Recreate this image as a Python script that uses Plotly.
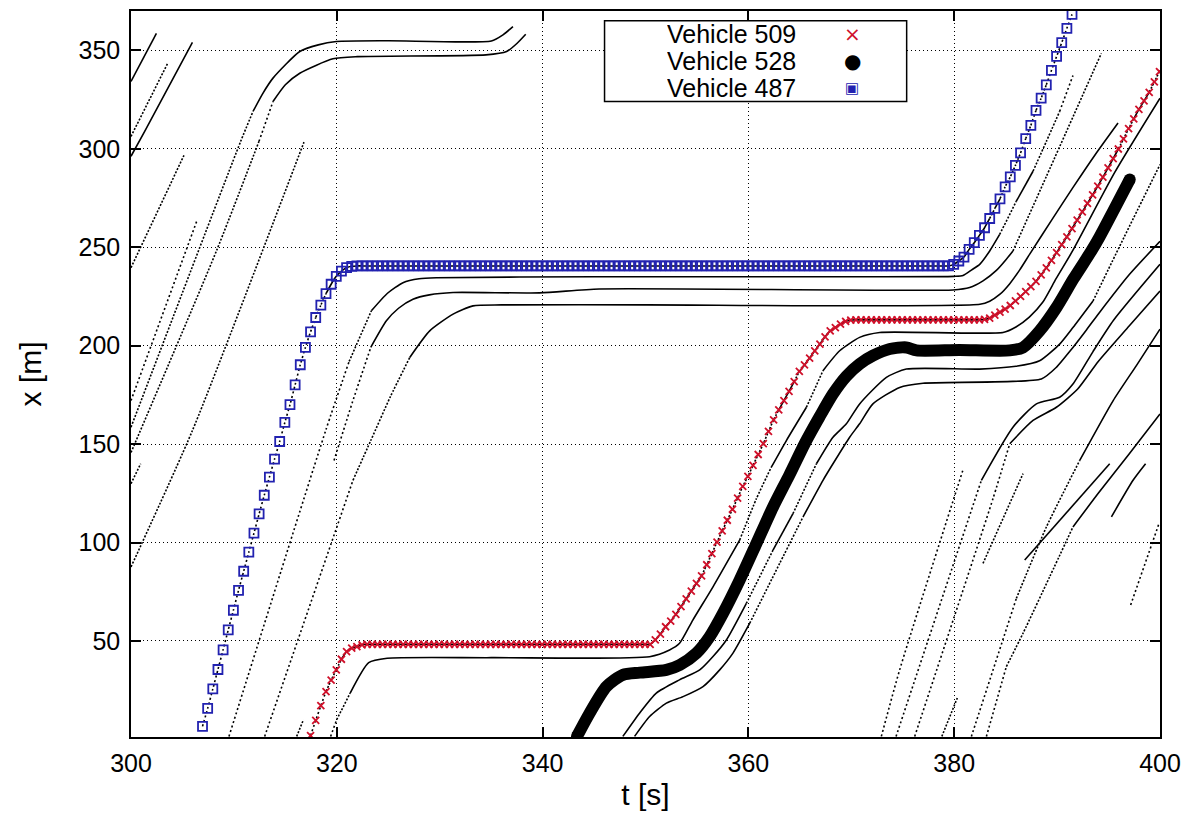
import plotly.graph_objects as go

# ---------------- axes ----------------
T_RANGE = [300, 400]
X_RANGE = [1.2, 370]
T_TICKS = [300, 320, 340, 360, 380, 400]
X_TICKS = [50, 100, 150, 200, 250, 300, 350]

RED = "#d0102a"
BLUE = "#2222b0"

# ---------------- highlighted vehicles (samples every 0.5 s) ----------------
DT = 0.5
V509_T0 = 317.45
V509_X = ([1.9, 9.6, 17.1, 24.3, 30.1, 35.3, 40.7, 44.6, 46.3, 47.1, 48.0]
          + [48.3] * 56
          + [50.5, 53.5, 57.2, 60.1, 63.5, 67.4, 71.4, 75.3, 79.2, 83.1, 88.7, 94.4, 100.2,
             105.9, 111.3, 116.9, 122.6, 128.5, 133.6, 139.2, 144.7, 150.2, 156.4, 162.3,
             167.4, 172.1, 176.8, 181.7, 186.9, 190.2, 193.7, 197.4, 200.8, 204.5, 207.5,
             209.2, 210.9, 212.3, 213.0]
          + [213.1] * 25
          + [213.3, 214.0, 215.5, 217.0, 218.6, 220.4, 222.7, 225.0, 227.5, 230.0, 232.7,
             236.0, 239.5, 243.3, 247.3, 251.3, 255.3, 259.5, 263.8, 268.0, 272.3, 276.6,
             281.0, 285.6, 290.3, 295.0, 299.9, 305.0, 310.2, 315.2, 320.0, 324.3, 328.7,
             334.0, 339.2])

V487_T0 = 306.95
V487_X = ([6.6, 15.7, 25.6, 35.5, 45.5, 55.6, 65.6, 75.7, 85.4, 95.1, 104.8, 114.5, 124.0,
           133.2, 142.4, 151.3, 161.0, 170.0, 180.1, 190.3, 199.1, 207.0, 214.3, 220.6,
           226.4, 231.2, 235.2, 237.9, 239.6, 240.3]
          + [240.5] * 116
          + [241.3, 243.0, 245.0, 248.9, 252.3, 256.0, 259.9, 264.6, 269.7, 274.6, 280.7,
             285.7, 291.6, 297.9, 305.2, 311.9, 319.5, 325.7, 332.5, 339.8, 346.9, 353.9,
             361.2, 368.3])

V528_T = [343.34, 344.58, 346.2, 347.81, 349.44, 352.03, 353.33, 354.95, 356.24, 357.53,
          359.15, 360.78, 362.39, 364.0, 365.5, 366.93, 368.22, 369.52, 370.81, 372.1,
          373.73, 375.35, 376.33, 380.5, 385.4, 386.69, 388.3, 389.93, 391.6, 393.33,
          394.1, 397.06]
V528_X = [1.5, 13.4, 26.8, 32.8, 33.9, 35.3, 37.8, 43.8, 52.2, 64.0, 80.9, 99.5, 118.0,
          134.5, 150.5, 164.0, 175.5, 184.5, 190.7, 194.9, 198.3, 199.1, 197.6, 197.8,
          197.6, 199.1, 207.5, 219.3, 234.0, 248.1, 255.0, 284.4]

# ---------------- other vehicles (t [s], x [m]) ----------------
veh_01 = ([300.0, 302.47], [334.2, 358.6])
veh_02 = ([300.0, 303.54], [306.3, 343.2])
veh_03 = ([300.0, 301.33, 305.97], [296.2, 308.9, 354.1])
veh_04 = ([300.0, 305.15], [239.6, 296.7])
veh_05 = ([300.0, 306.45], [172.1, 264.1])
veh_06 = ([300.0, 300.94], [129.9, 140.0])
veh_07 = ([300.0, 305.97, 316.81], [87.6, 156.9, 303.4])
veh_08 = ([300.0, 310.66, 311.86, 312.83, 313.8, 316.4, 318.2, 319.96, 325.0, 335.02, 336.15, 337.12],
          [158.6, 303.8, 319.0, 328.3, 335.9, 349.4, 352.8, 354.5, 354.9, 354.8, 357.9, 362.1])
veh_09 = ([300.0, 308.3, 312.44, 313.8, 315.0, 316.4, 319.63, 322.0, 334.5, 336.5, 337.5, 338.36],
          [145.7, 248.1, 303.8, 324.0, 332.5, 338.4, 345.7, 346.8, 347.7, 349.4, 353.5, 358.2])
veh_10 = ([309.52, 318.92, 321.2, 323.36, 324.9, 326.43, 328.0, 329.68, 345.0, 365.0, 380.0,
           380.86, 381.7, 382.48, 383.45, 384.42, 386.04, 387.66, 388.96, 390.25, 391.54],
          [1.5, 156.9, 192.0, 217.7, 226.5, 232.0, 234.0, 234.5, 235.0, 235.0, 235.2,
           235.6, 238.5, 241.3, 248.1, 256.5, 273.4, 288.6, 303.8, 319.0, 337.2])
veh_11 = ([312.99, 321.57, 323.3, 325.2, 327.09, 329.03, 331.3, 333.24, 336.0, 350.0, 382.5,
           383.45, 384.42, 385.4, 386.37, 387.34, 389.5, 391.5, 393.7, 395.92],
          [1.5, 131.6, 151.8, 174.0, 194.0, 207.5, 216.0, 220.2, 220.7, 220.7, 221.0,
           222.6, 226.0, 231.5, 238.5, 246.5, 264.0, 280.0, 297.0, 313.1])
veh_12 = ([319.73, 321.5, 323.3, 324.82, 326.0, 327.4, 329.0, 331.3, 339.7, 345.5, 379.88,
           381.5, 382.8, 384.1, 385.07, 385.71, 388.96, 394.3],
          [141.7, 171.0, 199.1, 212.6, 219.0, 223.6, 225.8, 227.0, 226.8, 228.8, 228.3,
           229.5, 232.9, 238.2, 243.9, 248.1, 286.0, 348.5])
veh_13 = ([319.4, 319.99, 321.3, 323.1, 324.9, 335.0, 350.4, 352.34, 353.31, 354.6, 356.56,
           359.15, 360.78, 362.2, 363.69, 365.64, 367.25, 368.87, 370.81, 372.76, 384.74,
           386.0, 387.3, 388.6, 389.9, 391.5, 395.6, 400.0],
          [1.5, 10.0, 23.5, 39.0, 41.2, 41.5, 42.0, 45.4, 48.8, 60.6, 77.5, 101.2, 122.3,
           138.0, 151.8, 168.7, 187.3, 197.4, 204.2, 206.7, 206.7, 209.5, 214.5, 222.0,
           234.0, 248.1, 288.0, 325.7])
veh_14 = ([347.8, 349.42, 351.05, 353.3, 355.27, 356.56, 357.86, 359.8, 362.39, 364.33,
           366.61, 368.22, 369.52, 370.81, 373.41, 375.35, 382.48, 386.0, 388.3, 390.25,
           391.54, 393.49, 396.5, 400.0],
          [1.5, 13.3, 23.5, 30.2, 35.3, 42.1, 50.5, 69.1, 96.1, 114.7, 140.0, 153.5, 160.3,
           170.4, 183.9, 188.1, 188.1, 189.5, 192.3, 200.8, 209.2, 222.7, 255.0, 292.0])
veh_15 = ([348.94, 350.4, 352.03, 353.65, 355.59, 357.21, 358.5, 360.13, 363.04, 365.31,
           367.25, 368.22, 369.84, 370.81, 372.1, 374.7, 376.97, 388.47, 389.93, 391.22,
           392.85, 394.14, 397.0, 400.0],
          [1.5, 11.6, 18.4, 21.7, 26.8, 35.3, 43.8, 59.0, 89.4, 113.0, 131.6, 140.0, 153.5,
           160.3, 170.4, 178.8, 180.9, 183.1, 189.0, 197.0, 208.0, 217.0, 236.0, 253.0])
veh_16 = ([372.92, 374.7, 380.86], [1.5, 35.3, 137.0])
veh_17 = ([374.35, 382.64, 385.71, 387.99, 390.25, 391.54, 393.49, 395.5, 400.0],
          [1.5, 131.6, 158.6, 170.4, 173.8, 180.5, 197.0, 213.0, 241.3])
veh_18 = ([376.16, 383.77, 385.4, 387.66, 389.93, 392.0, 394.0, 397.0, 400.0],
          [1.5, 122.3, 150.2, 162.0, 168.7, 178.0, 192.0, 210.0, 227.8])
veh_19 = ([381.67, 386.04, 388.96, 392.2, 395.45, 397.72, 400.0],
          [1.5, 71.6, 107.9, 141.7, 172.1, 190.0, 208.4])
veh_20 = ([383.13, 385.07, 386.69, 389.28, 391.54, 394.0, 397.0, 400.0],
          [1.5, 37.0, 53.9, 82.6, 107.9, 125.0, 145.0, 165.3])
veh_21 = ([382.8, 386.69], [89.4, 135.0])
veh_22 = ([386.85, 395.11], [91.1, 140.0])
veh_23 = ([395.28, 397.38, 398.6], [113.0, 131.6, 140.0])
veh_24 = ([397.15, 399.9], [68.3, 109.6])
veh_25 = ([378.8, 380.3], [1.5, 21.0])
veh_26 = ([316.1, 316.76], [1.5, 10.0])

OTHERS = [veh_01, veh_02, veh_03, veh_04, veh_05, veh_06, veh_07, veh_08, veh_09, veh_10,
          veh_11, veh_12, veh_13, veh_14, veh_15, veh_16, veh_17, veh_18, veh_19, veh_20,
          veh_21, veh_22, veh_23, veh_24, veh_25, veh_26]

LEGEND_LABELS = ["Vehicle 509", "Vehicle 528", "Vehicle 487"]

# ---------------- figure ----------------
fig = go.Figure()


def dash_for(speed):
    if speed < 10:
        return "solid"
    if speed < 14:
        return "2px,1.6px"
    return "2px,2.6px"


def add_traj(t, x, width=1.6):
    n = len(t)
    start = 0
    cur = None
    for i in range(n - 1):
        v = abs(x[i + 1] - x[i]) / max(t[i + 1] - t[i], 1e-6)
        d = dash_for(v)
        if cur is None:
            cur = d
        elif d != cur:
            fig.add_trace(go.Scatter(x=t[start:i + 1], y=x[start:i + 1], mode="lines",
                                     line=dict(color="black", width=width, dash=cur,
                                               shape="spline", smoothing=0.6),
                                     showlegend=False, hoverinfo="skip"))
            cur = d
            start = i
    fig.add_trace(go.Scatter(x=t[start:], y=x[start:], mode="lines",
                             line=dict(color="black", width=width, dash=cur,
                                       shape="spline", smoothing=0.6),
                             showlegend=False, hoverinfo="skip"))


for tt, xx in OTHERS:
    add_traj(tt, xx)

t509 = [V509_T0 + DT * i for i in range(len(V509_X))]
t487 = [V487_T0 + DT * i for i in range(len(V487_X))]
add_traj(t509, V509_X)
add_traj(t487, V487_X)

# vehicle 528: thick black
fig.add_trace(go.Scatter(x=V528_T, y=V528_X, mode="lines", name=LEGEND_LABELS[1],
                         line=dict(color="black", width=12, shape="spline", smoothing=0.7),
                         showlegend=False, hoverinfo="skip"))
fig.add_trace(go.Scatter(x=[V528_T[0], V528_T[-1]], y=[V528_X[0], V528_X[-1]], mode="markers",
                         marker=dict(color="black", size=12, symbol="circle"),
                         showlegend=False, hoverinfo="skip"))
# vehicle 487: blue squares
fig.add_trace(go.Scatter(x=t487, y=V487_X, mode="markers", name=LEGEND_LABELS[2],
                         marker=dict(symbol="square-open", size=9, color=BLUE,
                                     line=dict(color=BLUE, width=1.8)),
                         showlegend=False, hoverinfo="skip"))
# vehicle 509: red crosses
fig.add_trace(go.Scatter(x=t509, y=V509_X, mode="markers", name=LEGEND_LABELS[0],
                         marker=dict(symbol="x-thin", size=7, color=RED,
                                     line=dict(color=RED, width=1.8)),
                         showlegend=False, hoverinfo="skip"))

# manual legend (gnuplot style: text, then symbol on the right)
fig.add_shape(type="rect", xref="paper", yref="paper", x0=0.4602, x1=0.7538, y0=0.8755, y1=0.9867,
              line=dict(color="black", width=1.5), fillcolor="white", layer="above")
rows_y = [0.9684, 0.9313, 0.8937]
symbols = [("×", RED, 20), ("●", "black", 20), ("▣", BLUE, 15)]
for lab, yy, (sym, col, sz) in zip(LEGEND_LABELS, rows_y, symbols):
    fig.add_annotation(x=0.6481, y=yy, xref="paper", yref="paper", text=lab, showarrow=False,
                       xanchor="right", yanchor="middle", height=24,
                       font=dict(size=25, color="black"))
    fig.add_annotation(x=0.7009, y=yy, xref="paper", yref="paper", text=sym, showarrow=False,
                       xanchor="center", yanchor="middle", height=22,
                       font=dict(size=sz, color=col, family="DejaVu Sans"))

axis_common = dict(ticks="inside", ticklen=10, tickwidth=1.5, tickcolor="black",
                   showline=True, linewidth=1.5, linecolor="black", mirror="ticks",
                   showgrid=True, gridcolor="black", gridwidth=1, griddash="1px,3px",
                   zeroline=False, tickfont=dict(size=25))
fig.update_xaxes(range=T_RANGE, tickvals=T_TICKS, title=dict(text="t [s]", standoff=8),
                 ticklabelstandoff=3, **axis_common)
fig.update_yaxes(range=X_RANGE, tickvals=X_TICKS, title=dict(text="x [m]", standoff=28),
                 ticklabelstandoff=4, **axis_common)

# the page body adds an 8 px margin, so the figure is sized to land on the reference frame
fig.update_layout(width=1177, height=806, autosize=False,
                  margin=dict(l=123, r=25, t=1, b=77),
                  paper_bgcolor="white", plot_bgcolor="white",
                  font=dict(family="Liberation Sans, Arial, Helvetica, sans-serif", size=25,
                            color="black"),
                  showlegend=False)

fig.write_html("out.html")
